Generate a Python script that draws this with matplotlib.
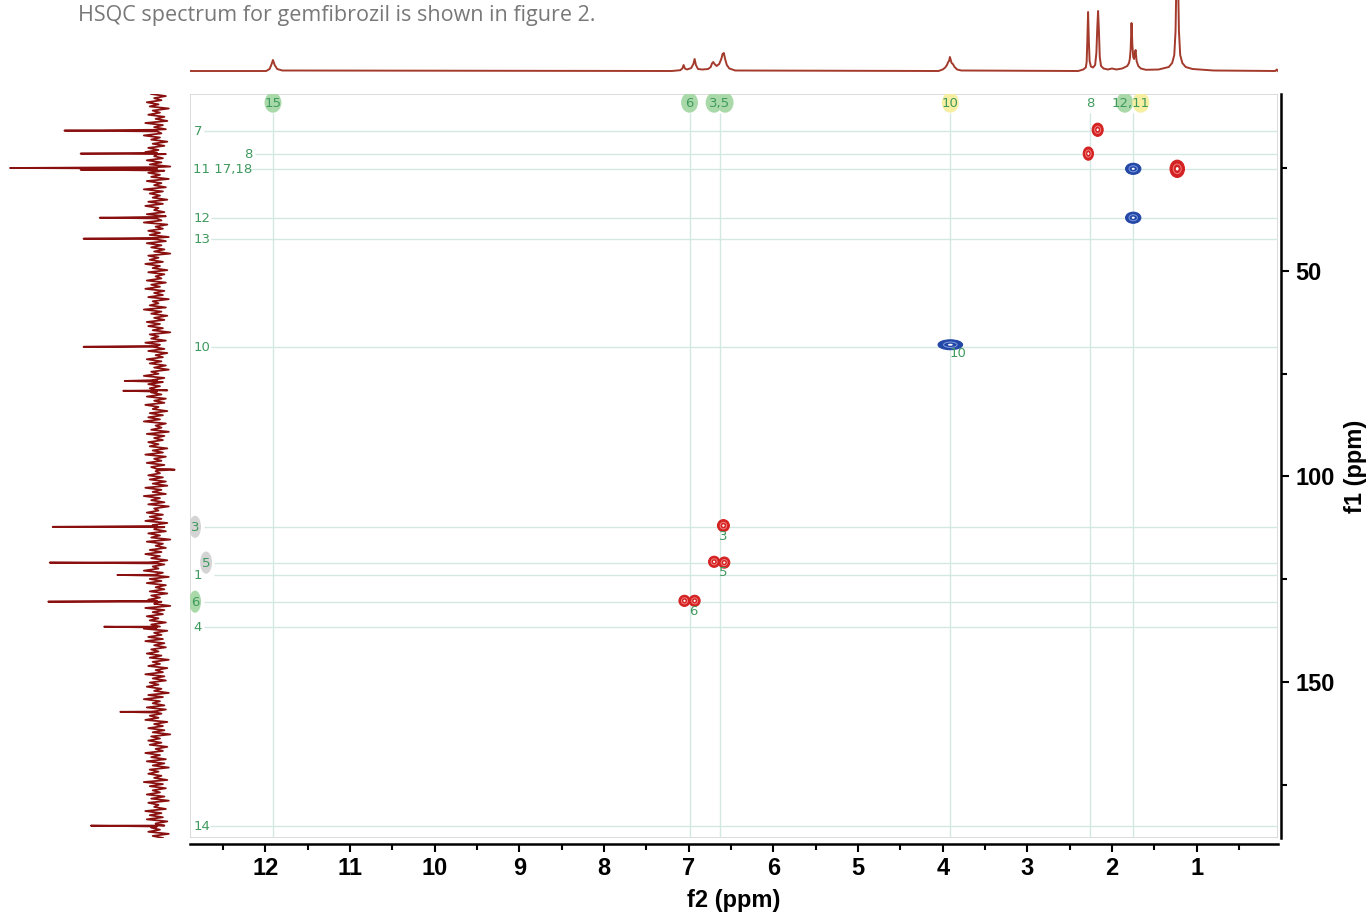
import numpy as np
import matplotlib.pyplot as plt
from matplotlib.patches import Ellipse, Rectangle
from matplotlib.ticker import MultipleLocator

# ---- 1H trace (top projection): f2 ppm vs height
top_ppm = [12.89, 11.99, 11.95, 11.93, 11.91, 11.89, 11.86, 11.80,
           7.20, 7.10, 7.075, 7.06, 7.045, 7.02, 6.97, 6.945, 6.93, 6.915, 6.89, 6.84,
           6.77, 6.74, 6.725, 6.71, 6.695, 6.67, 6.64, 6.615, 6.60, 6.585, 6.57, 6.55,
           6.52, 6.45,
           4.05, 4.00, 3.97, 3.95, 3.935, 3.925, 3.915, 3.905, 3.895, 3.88, 3.86, 3.83, 3.78,
           2.40, 2.34, 2.31, 2.30, 2.292, 2.283, 2.274, 2.265, 2.25, 2.225, 2.20, 2.185,
           2.175, 2.165, 2.155, 2.145, 2.13, 2.10, 2.05, 2.00, 1.95,
           1.88, 1.82, 1.80, 1.79, 1.78, 1.77, 1.76, 1.75, 1.74, 1.73, 1.722, 1.71, 1.69,
           1.66, 1.60, 1.45, 1.33, 1.29, 1.265, 1.25, 1.24, 1.23, 1.22, 1.21, 1.195, 1.17,
           1.13, 1.05, 0.80, 0.07, 0.055, 0.04]
top_int = [0, 0, 2, 6, 11, 6, 2, 0.5,
           0, 0.8, 2.5, 6, 2.5, 1.5, 3, 7, 12, 6, 2, 1.5,
           2, 4, 7.5, 9, 7, 5, 7, 12, 17, 18, 12, 6,
           2.5, 0.5,
           0, 1.5, 3.5, 6, 9, 10, 14, 11, 8, 7, 4, 1.5, 0.5,
           0, 1.5, 3.5, 9, 30, 59, 30, 10, 4.5, 3.5, 6, 18,
           42, 60, 40, 14, 5, 2.5, 1.5, 2.5, 1.5,
           2.5, 5, 8, 12, 22, 48, 26, 14, 12, 18, 21, 10, 5,
           2.5, 1.2, 1.5, 4, 8, 16, 40, 90, 150, 90, 40, 16, 8,
           4, 2, 0.5, 0, 1.5, 0]

# ---- 13C trace (left projection)
c_noise = [4, -6, 2, -3, 7, -1, 5, -8, 3, -2, 6, -5, 1, -7, 8, -4, 2, -6, 5, -3, 9, -2, 4, -7,
           3, -5, 6, -1, 8, -6, 2, -4, 7, -3, 5, -9, 1, -5, 6, -2, 4, -8, 7, -3, 2, -6, 9, -4,
           5, -2, 3, -7, 6, -4, 8, -1, 2, -5, 7, -6, 4, -3, 9, -7, 1, -4, 6, -2, 5, -8, 3, -6,
           7, -3, 4, -5, 2, -9, 6, -1, 5, -4, 8, -2, 3, -7, 6, -5, 1, -3, 7, -6, 4, -2, 8, -5,
           2, -4, 6, -8, 3, -1, 5, -6, 9, -3, 4, -7, 2, -5, 7, -2, 6, -4, 3, -9, 5, -1, 4, -6,
           8, -2, 3, -5, 6, -7, 1, -4, 7, -3, 5, -6, 2, -8, 4, -1, 9, -5, 3, -4, 6, -2, 5, -7,
           4, -3, 7, -6, 2, -5, 8, -1, 3, -7, 5, -4, 6, -2, 9, -6, 1, -3, 4, -8, 7, -5, 2, -4,
           6, -1, 5, -7, 3, -4, 8, -6, 2, -3, 7, -5, 4, -9, 1, -2, 6, -4, 5, -6, 3, -7, 8, -3,
           3, -6, 9, -2, 4, -5, 6, -8, 2, -1, 7, -4, 5, -3, 8, -7, 3, -5, 2, -6, 6, -2, 4, -9,
           7, -4, 1, -6, 5, -3, 8, -2, 4, -7, 6, -5, 3, -1, 9, -4, 2, -8, 5, -3, 7, -6, 1, -5,
           5, -7, 4, -2, 6, -3, 2, -9, 8, -5, 3, -4, 7, -1, 5, -6, 4, -2, 9, -7, 2, -3, 6, -4,
           8, -5, 2, -6, 4, -1, 7, -3, 5, -8, 3, -2, 6, -7, 1, -4, 8, -5, 3, -6, 5, -1, 7, -3,
           2, -8, 6, -4, 9, -2, 3, -5, 7, -6, 4, -3, 5, -1, 8, -7, 2, -4, 6, -5, 3, -9, 4, -2,
           6, -3, 5, -7, 1, -4, 8, -2, 4, -6, 7, -5, 3, -8, 5, -1, 6, -3, 2, -7, 9, -4, 5, -6,
           3, -2, 7, -5, 4, -8, 6, -1, 2, -6, 8, -3, 5, -4, 7, -7, 1, -5, 4, -2, 6, -8, 3, -4]
c_peak_ppm = [15.9, 21.5, 25.0, 25.4, 37.1, 42.2, 68.5, 76.8, 79.2, 98.4, 112.3, 121.0,
              124.0, 130.5, 136.6, 157.3, 185.0]
c_peak_int = [63, 52, 100, 52, 39, 50, 50, 22, 23, -12, 71, 73, 27, 74, 36, 25, 45]

# ---- HSQC cross peaks (f2, f1, phase, widths in ppm)
cross_f2 = [2.17, 2.28, 1.75, 1.23, 1.75, 3.91, 6.59, 6.70, 6.58, 7.05, 6.93]
cross_f1 = [15.7, 21.5, 25.2, 25.2, 37.1, 68.0, 112.0, 120.8, 121.0, 130.3, 130.3]
cross_phase = [1, 1, -1, 1, -1, -1, 1, 1, 1, 1, 1]
cross_w2 = [0.13, 0.12, 0.18, 0.17, 0.18, 0.29, 0.14, 0.13, 0.13, 0.13, 0.13]
cross_w1 = [3.2, 3.2, 2.7, 4.2, 2.7, 2.4, 2.9, 2.7, 2.7, 2.7, 2.7]

# ---- assignments
top_lab = ['15', '6', '3,5', '10', '8', '12,11']
top_lab_ppm = [11.91, 6.99, 6.64, 3.91, 2.26, 1.78]
top_line_ppm = [11.91, 6.99, 6.63, 3.91, 2.26, 1.75]
top_badge_ppm = [11.91, 6.99, 6.70, 6.57, 3.91, 1.85, 1.66]
top_badge_kind = ['g', 'g', 'g', 'g', 'y', 'g', 'y']

left_lab = ['7', '8', '11 17,18', '12', '13', '10', '3', '5', '1', '6', '4', '14']
left_lab_f1 = [15.9, 21.5, 25.2, 37.1, 42.2, 68.5, 112.3, 121.0, 124.0, 130.5, 136.6, 185.0]
left_lab_x = [12.85, 12.25, 12.85, 12.85, 12.85, 12.85, 12.83, 12.70, 12.85, 12.83, 12.85, 12.85]
left_line_x = [12.73, 12.12, 12.24, 12.64, 12.64, 12.64, 12.73, 12.61, 12.61, 12.73, 12.73, 12.65]
left_badge = {'3': 'gr', '5': 'gr', '6': 'g'}

near_lab = ['10', '3', '5', '6']
near_f2 = [3.82, 6.59, 6.59, 6.95]
near_f1 = [70.2, 114.6, 123.3, 132.8]

GREEN = '#3f9a5e'
GUIDE = '#d3e8e2'
BADGE = {'g': '#a9d9a9', 'y': '#f6efa2', 'gr': '#d4d4d4'}
XLIM = (12.89, 0.04)
YLIM = (188.0, 7.0)

W, H = 1371, 915
fig = plt.figure(figsize=(W / 100, H / 100), dpi=100)
ax = fig.add_axes([190 / W, 1 - 838 / H, 1088 / W, 744 / H])
ax_top = fig.add_axes([190 / W, 1 - 85 / H, 1088 / W, 85 / H])
ax_left = fig.add_axes([0, 1 - 838 / H, 185 / W, 744 / H])

# main 2D frame
ax.set_xlim(XLIM)
ax.set_ylim(YLIM)
ax.add_patch(Rectangle((0, 0), 1, 1, transform=ax.transAxes, fill=False,
                       ec='#d6d6d6', lw=1.2, zorder=1))
for s in ['top', 'left']:
    ax.spines[s].set_visible(False)
ax.spines['bottom'].set_position(('outward', 4))
ax.spines['right'].set_position(('outward', 2.5))
for s in ['bottom', 'right']:
    ax.spines[s].set_linewidth(1.8)
ax.yaxis.tick_right()
ax.yaxis.set_label_position('right')
ax.xaxis.set_major_locator(MultipleLocator(1))
ax.xaxis.set_minor_locator(MultipleLocator(0.5))
ax.yaxis.set_major_locator(MultipleLocator(50))
ax.yaxis.set_minor_locator(MultipleLocator(25))
ax.tick_params(which='major', length=6, width=1.5, direction='out')
ax.tick_params(which='minor', length=4, width=1.5, direction='out')
ax.tick_params(labelsize=17, pad=4)
for lab in ax.get_xticklabels() + ax.get_yticklabels():
    lab.set_fontfamily('Liberation Sans')
    lab.set_fontweight('bold')
ax.set_xlabel('f2 (ppm)', fontsize=17, fontweight='bold', family='Liberation Sans', labelpad=6)
ax.set_ylabel('f1 (ppm)', fontsize=17, fontweight='bold', family='Liberation Sans', labelpad=7)

# guide lines
for f1, x0 in zip(left_lab_f1, left_line_x):
    ax.hlines(f1, x0, XLIM[1], color=GUIDE, lw=1, zorder=1)
for p in top_line_ppm:
    ax.vlines(p, 11.6, YLIM[0], color=GUIDE, lw=1, zorder=1)

# badges + labels on top row
for p, k in zip(top_badge_ppm, top_badge_kind):
    ax.add_patch(Ellipse((p, 9.1), 0.2, 4.9, fc=BADGE[k], ec='none', zorder=2))
for t, p in zip(top_lab, top_lab_ppm):
    ax.text(p, 9.2, t, color=GREEN, fontsize=9.5, ha='center', va='center', zorder=3)

# left labels
for t, f1, x in zip(left_lab, left_lab_f1, left_lab_x):
    if t in left_badge:
        ax.add_patch(Ellipse((x, f1), 0.14, 5.4, fc=BADGE[left_badge[t]], ec='none', zorder=2))
        ax.text(x, f1 + 0.2, t, color=GREEN, fontsize=9.5, ha='center', va='center', zorder=3)
    else:
        ax.text(x, f1 + 0.2, t, color=GREEN, fontsize=9.5, ha='left', va='center', zorder=3)

# cross peaks
for f2, f1, ph, w2, w1 in zip(cross_f2, cross_f1, cross_phase, cross_w2, cross_w1):
    col = '#d42222' if ph > 0 else '#2347a6'
    ring = '#f08080' if ph > 0 else '#7f9ce0'
    ax.add_patch(Ellipse((f2, f1), w2, w1, fc=col, ec=col, lw=0.8, zorder=4))
    ax.add_patch(Ellipse((f2, f1), w2 * 0.55, w1 * 0.55, fc='none', ec=ring, lw=0.7, zorder=5))
    ax.add_patch(Ellipse((f2, f1), w2 * 0.2, w1 * 0.2, fc='white', ec='none', zorder=6))

for t, f2, f1 in zip(near_lab, near_f2, near_f1):
    ax.text(f2, f1, t, color=GREEN, fontsize=9.5, ha='center', va='center', zorder=7)

# top projection
ax_top.plot(top_ppm, top_int, color='#a33a2c', lw=1.4)
ax_top.set_xlim(XLIM)
ax_top.set_ylim(-14, 71)
ax_top.axis('off')

# left projection
grid = np.linspace(YLIM[1], YLIM[0], len(c_noise))
f1_all = list(grid)
in_all = list(c_noise)
for p, h in zip(c_peak_ppm, c_peak_int):
    f1_all += [p - 0.2, p, p + 0.2]
    in_all += [0, h, 0]
order = np.argsort(f1_all)
ax_left.plot(np.array(in_all)[order], np.array(f1_all)[order], color='#8a1010', lw=1.3)
ax_left.set_xlim(106.8, -19)
ax_left.set_ylim(YLIM)
ax_left.axis('off')

fig.text(78 / W, 1 - 16 / H, 'HSQC spectrum for gemfibrozil is shown in figure 2.',
         fontsize=15.5, color='#787878', family='Open Sans', ha='left', va='center')

fig.savefig('out.png', dpi=100)
